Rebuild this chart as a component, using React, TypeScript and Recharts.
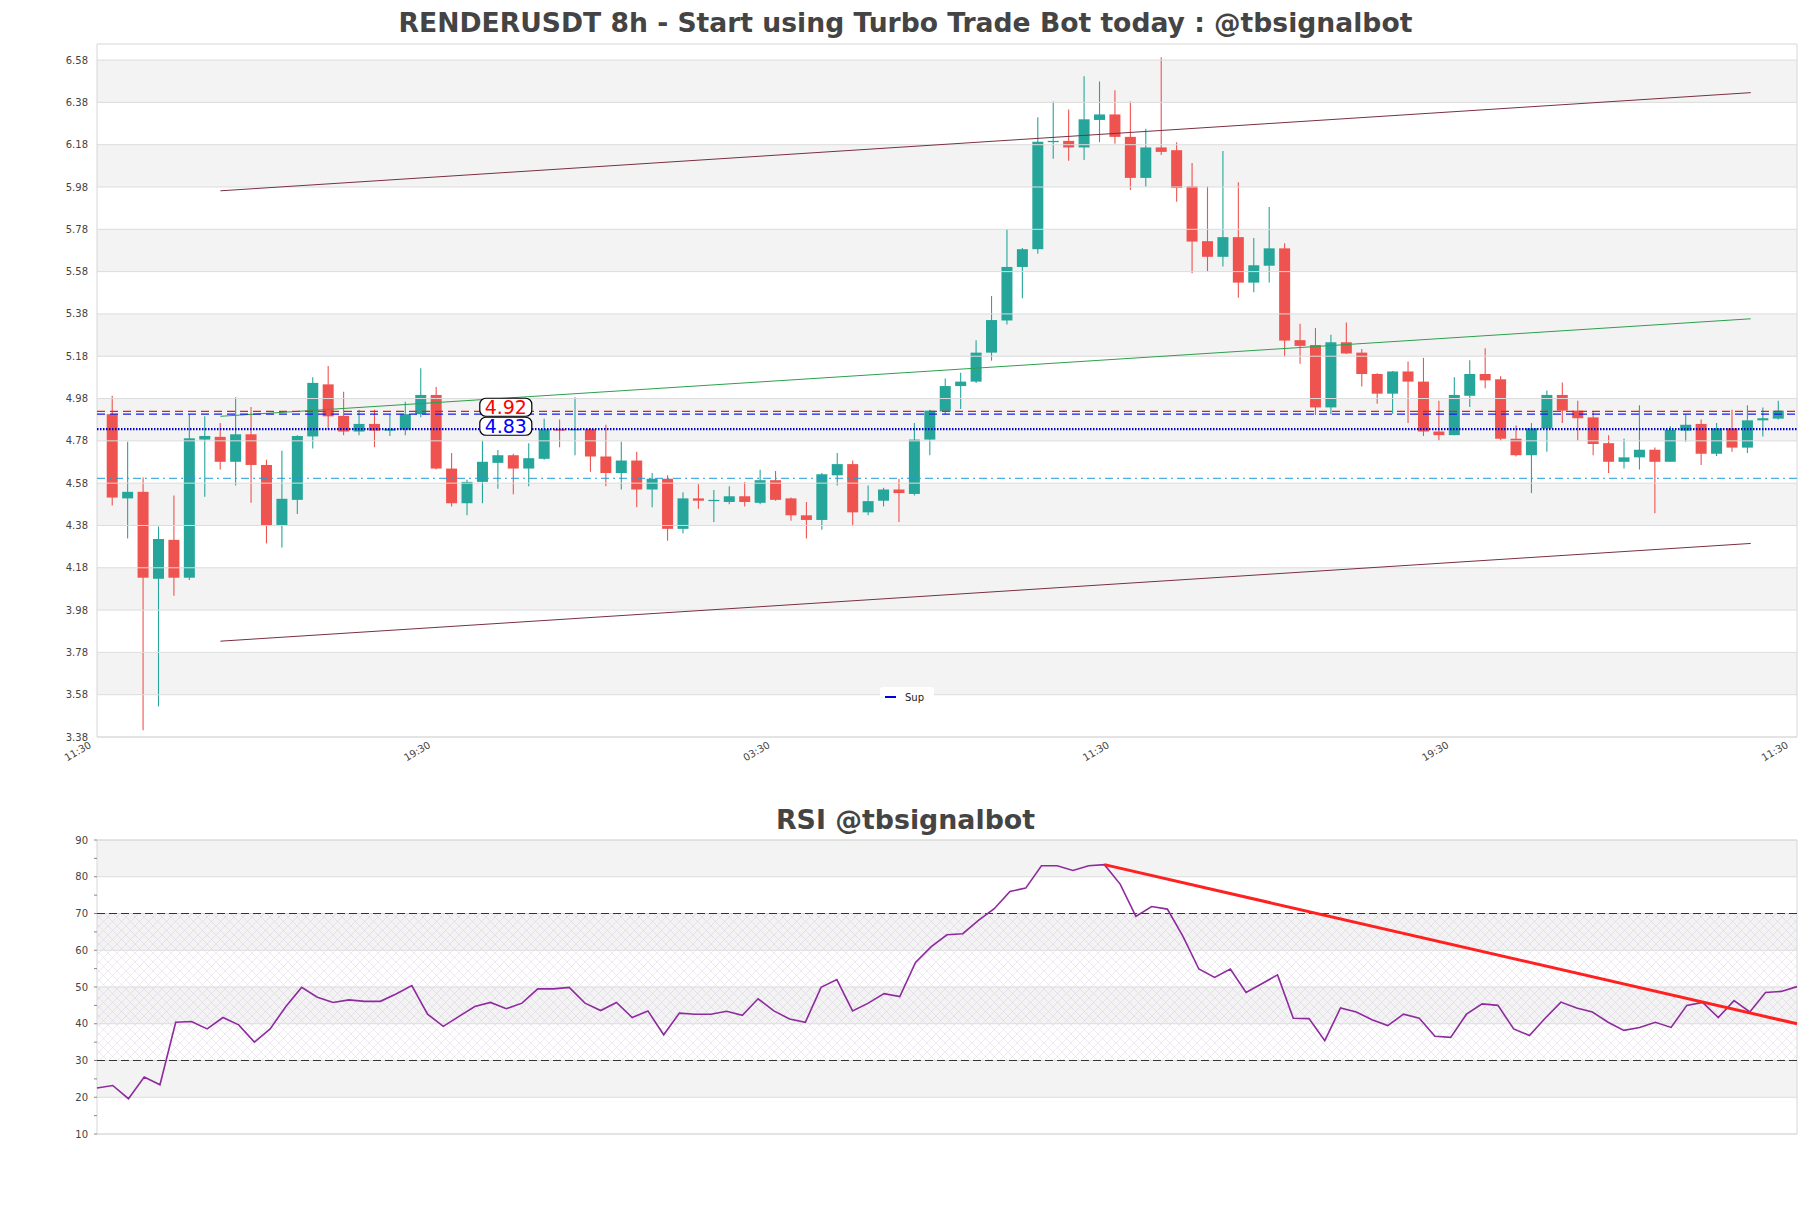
import React from 'react';
import {
  ComposedChart,
  Bar,
  Line,
  XAxis,
  YAxis,
  ReferenceLine,
  ReferenceArea,
  ReferenceDot,
} from 'recharts';

// ---------------- DATA ----------------
const opens = [
  4.906, 4.508, 4.539, 4.128, 4.312, 4.133, 4.786, 4.799, 4.681, 4.811,
  4.666, 4.379, 4.501, 4.801, 5.047, 4.898, 4.824, 4.860, 4.828, 4.832,
  4.906, 4.997, 4.649, 4.485, 4.586, 4.676, 4.712, 4.649, 4.695, 4.835,
  4.830, 4.835, 4.706, 4.628, 4.687, 4.550, 4.601, 4.364, 4.508, 4.497,
  4.491, 4.518, 4.487, 4.594, 4.508, 4.428, 4.406, 4.617, 4.670, 4.442,
  4.497, 4.550, 4.529, 4.786, 4.919, 5.039, 5.060, 5.197, 5.349, 5.602,
  5.686, 6.192, 6.198, 6.167, 6.297, 6.323, 6.217, 6.023, 6.167, 6.154,
  5.983, 5.724, 5.650, 5.743, 5.528, 5.608, 5.690, 5.256, 5.233, 4.938,
  5.246, 5.197, 5.096, 5.003, 5.108, 5.060, 4.824, 4.807, 4.993, 5.096,
  5.071, 4.790, 4.712, 4.839, 4.997, 4.923, 4.891, 4.769, 4.681, 4.702,
  4.738, 4.681, 4.828, 4.860, 4.719, 4.839, 4.748, 4.877, 4.885,
];
const highs = [
  4.993, 4.776, 4.607, 4.375, 4.522, 4.906, 4.896, 4.864, 4.986, 4.940,
  4.691, 4.733, 4.807, 5.081, 5.134, 5.012, 4.927, 4.927, 4.906, 4.965,
  5.123, 5.035, 4.723, 4.596, 4.782, 4.737, 4.719, 4.769, 4.885, 4.881,
  4.986, 4.840, 4.856, 4.776, 4.729, 4.628, 4.617, 4.537, 4.575, 4.548,
  4.565, 4.586, 4.643, 4.638, 4.512, 4.491, 4.628, 4.723, 4.687, 4.569,
  4.558, 4.601, 4.864, 4.927, 5.075, 5.102, 5.256, 5.465, 5.781, 5.692,
  6.310, 6.384, 6.346, 6.504, 6.479, 6.437, 6.384, 6.255, 6.593, 6.192,
  6.093, 5.983, 6.150, 6.002, 5.739, 5.886, 5.714, 5.334, 5.313, 5.281,
  5.340, 5.214, 5.100, 5.110, 5.155, 5.172, 4.969, 5.081, 5.161, 5.218,
  5.085, 4.853, 4.864, 5.018, 5.056, 4.969, 4.919, 4.807, 4.790, 4.948,
  4.748, 4.849, 4.906, 4.881, 4.864, 4.927, 4.948, 4.938, 4.969,
];
const lows = [
  4.474, 4.318, 3.412, 3.525, 4.048, 4.122, 4.516, 4.645, 4.569, 4.487,
  4.295, 4.276, 4.434, 4.744, 4.832, 4.807, 4.807, 4.750, 4.803, 4.807,
  4.891, 4.645, 4.470, 4.428, 4.485, 4.554, 4.527, 4.565, 4.691, 4.750,
  4.712, 4.634, 4.565, 4.550, 4.466, 4.466, 4.308, 4.343, 4.459, 4.396,
  4.480, 4.470, 4.480, 4.497, 4.402, 4.318, 4.360, 4.569, 4.381, 4.428,
  4.470, 4.396, 4.522, 4.712, 4.906, 4.931, 5.054, 5.159, 5.330, 5.454,
  5.665, 6.114, 6.104, 6.108, 6.192, 6.184, 5.966, 5.981, 6.131, 5.910,
  5.572, 5.581, 5.604, 5.456, 5.482, 5.528, 5.180, 5.144, 4.902, 4.906,
  5.191, 5.037, 4.955, 4.908, 4.864, 4.803, 4.782, 4.807, 4.940, 5.029,
  4.780, 4.706, 4.533, 4.729, 4.864, 4.782, 4.712, 4.628, 4.649, 4.645,
  4.438, 4.681, 4.776, 4.666, 4.708, 4.729, 4.723, 4.801, 4.881,
];
const closes = [
  4.512, 4.539, 4.133, 4.316, 4.133, 4.792, 4.803, 4.681, 4.811, 4.666,
  4.379, 4.506, 4.803, 5.054, 4.896, 4.824, 4.860, 4.828, 4.837, 4.906,
  4.997, 4.649, 4.485, 4.586, 4.681, 4.712, 4.649, 4.698, 4.835, 4.828,
  4.836, 4.706, 4.628, 4.687, 4.550, 4.601, 4.364, 4.508, 4.497, 4.501,
  4.518, 4.491, 4.594, 4.501, 4.428, 4.406, 4.622, 4.670, 4.442, 4.495,
  4.550, 4.533, 4.786, 4.923, 5.039, 5.060, 5.197, 5.351, 5.602, 5.686,
  6.194, 6.198, 6.167, 6.300, 6.323, 6.217, 6.023, 6.167, 6.146, 5.975,
  5.722, 5.650, 5.743, 5.528, 5.610, 5.690, 5.254, 5.229, 4.938, 5.246,
  5.193, 5.096, 5.003, 5.108, 5.060, 4.824, 4.807, 4.997, 5.096, 5.066,
  4.790, 4.712, 4.839, 4.997, 4.923, 4.887, 4.765, 4.681, 4.702, 4.738,
  4.681, 4.832, 4.856, 4.719, 4.839, 4.748, 4.877, 4.887, 4.923,
];

const xTickPositions = [0, 22, 44, 66, 88, 110];
const xTickLabels = ['11:30', '19:30', '03:30', '11:30', '19:30', '11:30'];
const priceTicks = [
  3.38, 3.58, 3.78, 3.98, 4.18, 4.38, 4.58, 4.78, 4.98, 5.18, 5.38, 5.58,
  5.78, 5.98, 6.18, 6.38, 6.58,
];
const priceDomain = [3.38, 6.656];
const xDomain = [0, 110.2];

const resistanceLevel = 4.919;
const upperSupLevel = 4.906;
const supportLevel = 4.835;
const lowerLevel = 4.603;

const channelUpper = [{ x: 8, y: 5.962 }, { x: 107.2, y: 6.426 }];
const channelMiddle = [{ x: 8, y: 4.896 }, { x: 107.2, y: 5.357 }];
const channelLower = [{ x: 8, y: 3.833 }, { x: 107.2, y: 4.295 }];

const tagX = [26.5, 26.5];
const tagY = [4.92, 4.83];
const tagText = ['4.92', '4.83'];
const tagColor = ['#ff0000', '#0000ff'];

const rsiValues = [
  22.5, 23.2, 19.6, 25.5, 23.4, 40.4, 40.6, 38.6, 41.7, 39.7,
  35.0, 38.6, 44.7, 49.9, 47.2, 45.8, 46.5, 46.1, 46.1, 48.1,
  50.4, 42.6, 39.3, 42.0, 44.7, 45.8, 44.1, 45.6, 49.5, 49.5,
  49.9, 45.6, 43.6, 45.8, 41.7, 43.5, 37.0, 42.9, 42.6, 42.6,
  43.4, 42.3, 46.8, 43.5, 41.3, 40.4, 49.9, 52.0, 43.5, 45.6,
  48.2, 47.4, 56.7, 61.0, 64.2, 64.5, 68.1, 71.3, 76.0, 76.9,
  83.0, 83.0, 81.7, 83.0, 83.3, 78.0, 69.2, 71.9, 71.2, 63.7,
  54.9, 52.6, 54.9, 48.5, 50.9, 53.3, 41.5, 41.4, 35.4, 44.3,
  43.2, 41.1, 39.5, 42.6, 41.5, 36.6, 36.3, 42.6, 45.4, 45.0,
  38.6, 36.8, 41.5, 45.9, 44.3, 43.2, 40.4, 38.2, 39.0, 40.4,
  39.0, 45.0, 45.8, 41.7, 46.3, 43.2, 48.5, 48.8, 50.1,
];
const rsiTicks = [10, 15, 20, 25, 30, 35, 40, 45, 50, 55, 60, 65, 70, 75, 80, 85, 90];
const rsiGrid = [10, 20, 30, 40, 50, 60, 70, 80, 90];
const rsiGrayBands = [[20, 30], [40, 50], [60, 70], [80, 90]];
const rsiTrend = [{ x: 64, y: 83.3 }, { x: 108, y: 40.0 }];

// ---------------- DERIVED TABLES ----------------
const candles = opens.map((o, i) => ({
  idx: i + 1,
  open: o,
  high: highs[i],
  low: lows[i],
  close: closes[i],
  range: [lows[i], highs[i]],
}));
const rsiData = rsiValues.map((v, k) => ({ k, rsi: v }));
const grayBands = priceTicks
  .slice(0, -1)
  .map((t, i) => [t, priceTicks[i + 1]])
  .filter((_, i) => i % 2 === 1);

const FONT = 'DejaVu Sans, sans-serif';
const UP = '#26a69a';
const DOWN = '#ef5350';

const CandleShape = (props: any) => {
  const { x, y, width, height, payload } = props;
  if (!payload) return null;
  const { open, close, high, low } = payload;
  const color = close >= open ? UP : DOWN;
  const span = high - low;
  const pix = (p: number) => (span === 0 ? y : y + ((high - p) / span) * height);
  const cx = x + width / 2;
  const top = pix(Math.max(open, close));
  const bot = pix(Math.min(open, close));
  const bh = Math.max(bot - top, 1.3);
  return (
    <g>
      <line x1={cx} x2={cx} y1={y} y2={y + height} stroke={color} strokeWidth={1.1} />
      <rect x={x} y={top} width={width} height={bh} fill={color} />
    </g>
  );
};

const XTick = (props: any) => {
  const { x, y, payload } = props;
  const i = xTickPositions.indexOf(payload.value);
  const label = i >= 0 ? xTickLabels[i] : '';
  const ax = x - 5;
  const ay = y + 2;
  return (
    <text
      x={ax}
      y={ay}
      transform={`rotate(-30, ${ax}, ${ay})`}
      textAnchor="end"
      fontSize={10}
      fontFamily={FONT}
      fill="#444"
    >
      {label}
    </text>
  );
};

const PriceTag = (props: any) => {
  const { cx, cy, text, color } = props;
  const c = cy - 4;
  return (
    <g>
      <rect x={cx - 26} y={c - 9} width={52} height={18} rx={6} ry={6} fill="#fff" stroke="#000" strokeWidth={1.2} />
      <text x={cx} y={c + 7} textAnchor="middle" fontSize={19} fontFamily={FONT} fill={color}>
        {text}
      </text>
    </g>
  );
};

export default function App() {
  return (
    <div style={{ position: 'absolute', left: 0, top: 0, width: 1811, height: 1208, background: '#fff', fontFamily: FONT }}>
      <div
        style={{
          position: 'absolute', left: 0, top: 6, width: 1811, textAlign: 'center',
          fontSize: 26.6, fontWeight: 'bold', color: '#444', fontFamily: FONT, lineHeight: '34px',
        }}
      >
        RENDERUSDT 8h - Start using Turbo Trade Bot today : @tbsignalbot
      </div>

      <div style={{ position: 'absolute', left: 0, top: 0 }}>
        <ComposedChart width={1811} height={800} data={candles} margin={{ top: 44, right: 14, bottom: 13, left: 0 }}>
          <XAxis
            dataKey="idx" type="number" domain={xDomain} ticks={xTickPositions} allowDataOverflow
            interval={0} height={50} axisLine={false} tickLine={false} tick={<XTick />}
          />
          <YAxis
            type="number" domain={priceDomain} ticks={priceTicks} allowDataOverflow interval={0} width={97}
            axisLine={false} tickSize={3} tickMargin={6} tickLine={{ stroke: 'none' }}
            tick={{ fontSize: 10, fill: '#444', fontFamily: FONT }}
            tickFormatter={(v: number) => v.toFixed(2)}
          />
          {grayBands.map((b, i) => (
            <ReferenceArea key={'b' + i} y1={b[0]} y2={b[1]} fill="#f3f3f3" fillOpacity={1} stroke="none" />
          ))}
          {priceTicks.map((t) => (
            <ReferenceLine key={'g' + t} y={t} stroke="#dcdcdc" strokeWidth={1} />
          ))}
          <ReferenceArea y1={priceDomain[0]} y2={priceDomain[1]} fill="none" stroke="#d6d6d6" strokeWidth={1} />
          <ReferenceLine segment={channelUpper} stroke="#7a3040" strokeWidth={1} />
          <ReferenceLine segment={channelLower} stroke="#7a3040" strokeWidth={1} />
          <ReferenceLine segment={channelMiddle} stroke="#2ca04c" strokeWidth={1} />
          <ReferenceLine y={lowerLevel} stroke="#1f9bd7" strokeWidth={1} strokeDasharray="8 4 2 4" />
          <ReferenceLine y={resistanceLevel} stroke="#e02020" strokeWidth={1.2} strokeDasharray="8 5" />
          <ReferenceLine y={upperSupLevel} stroke="#1a1ae6" strokeWidth={1.2} strokeDasharray="8 5" />
          <ReferenceLine y={supportLevel} stroke="#0000cc" strokeWidth={2.2} strokeDasharray="1.5 1.5" />
          <Bar dataKey="range" barSize={11} shape={<CandleShape />} isAnimationActive={false} />
          {tagText.map((t, i) => (
            <ReferenceDot
              key={'t' + i} x={tagX[i]} y={tagY[i]} r={0}
              shape={(p: any) => <PriceTag {...p} text={t} color={tagColor[i]} />}
            />
          ))}
        </ComposedChart>
      </div>

      <div
        style={{
          position: 'absolute', left: 880, top: 687, width: 54, height: 20, background: '#fff',
          borderRadius: 3, display: 'flex', alignItems: 'center',
        }}
      >
        <div style={{ marginLeft: 5, width: 11, height: 2, background: '#0000dd' }} />
        <span style={{ marginLeft: 9, fontSize: 10, color: '#222', fontFamily: FONT }}>Sup</span>
      </div>

      <div
        style={{
          position: 'absolute', left: 0, top: 803, width: 1811, textAlign: 'center',
          fontSize: 26.8, fontWeight: 'bold', color: '#444', fontFamily: FONT, lineHeight: '34px',
        }}
      >
        RSI @tbsignalbot
      </div>

      <div style={{ position: 'absolute', left: 0, top: 800 }}>
        <ComposedChart width={1811} height={400} data={rsiData} margin={{ top: 40, right: 14, bottom: 66, left: 0 }}>
          <defs>
            <pattern id="rsiHatch" width="9" height="9" patternUnits="userSpaceOnUse">
              <path d="M0,0 L9,9 M9,0 L0,9" stroke="#c8b4d4" strokeWidth={0.5} fill="none" />
            </pattern>
          </defs>
          <XAxis dataKey="k" type="number" domain={[0, 108]} hide />
          <YAxis
            type="number" domain={[10, 90]} ticks={rsiTicks} interval={0} width={97} allowDataOverflow
            axisLine={false} tickSize={3} tickMargin={6} tickLine={{ stroke: '#888' }}
            tick={{ fontSize: 10, fill: '#444', fontFamily: FONT }}
            tickFormatter={(v: number) => (v % 10 === 0 ? String(v) : '')}
          />
          {rsiGrayBands.map((b, i) => (
            <ReferenceArea key={'rb' + i} y1={b[0]} y2={b[1]} fill="#f3f3f3" fillOpacity={1} stroke="none" />
          ))}
          <ReferenceArea y1={30} y2={70} fill="url(#rsiHatch)" fillOpacity={0.6} stroke="none" />
          {rsiGrid.map((t) => (
            <ReferenceLine key={'rg' + t} y={t} stroke="#dcdcdc" strokeWidth={1} />
          ))}
          <ReferenceArea y1={10} y2={90} fill="none" stroke="#d6d6d6" strokeWidth={1} />
          <ReferenceLine y={70} stroke="#333" strokeWidth={1.1} strokeDasharray="8 4" />
          <ReferenceLine y={30} stroke="#333" strokeWidth={1.1} strokeDasharray="8 4" />
          <Line dataKey="rsi" type="linear" stroke="#8e2a9e" strokeWidth={1.6} dot={false} isAnimationActive={false} />
          <ReferenceLine segment={rsiTrend} stroke="#ff2020" strokeWidth={3} />
        </ComposedChart>
      </div>
    </div>
  );
}
